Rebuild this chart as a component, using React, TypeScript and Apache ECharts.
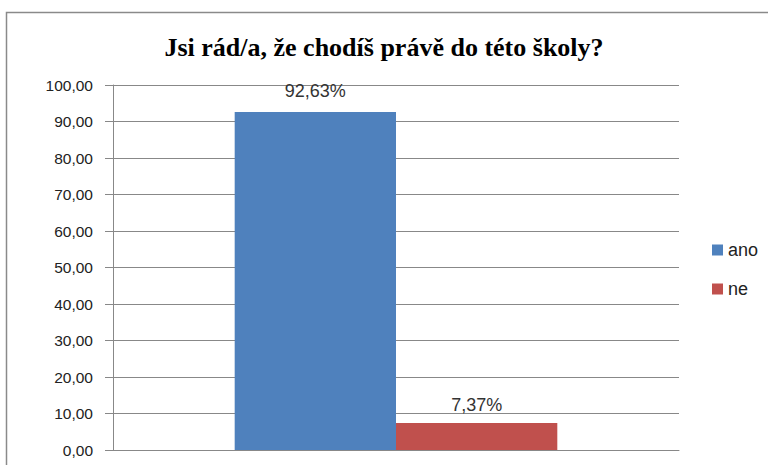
import React, { useEffect, useRef } from "react";
import * as echarts from "echarts";

const titleText = "Jsi rád/a, že chodíš právě do této školy?";
const categories = [""];
const seriesNames = ["ano", "ne"];
const anoValues = [92.63];
const neValues = [7.37];
const colors = ["#4F81BD", "#C0504D"];

const fmt = (v: number) => v.toFixed(2).replace(".", ",");

export default function App() {
  const ref = useRef<HTMLDivElement>(null);
  useEffect(() => {
    document.body.style.margin = "0";
    const chart = echarts.init(ref.current!, undefined, { renderer: "svg" });
    const labelStyle = (distance: number) => ({
      show: true,
      position: "top" as const,
      distance,
      fontFamily: "Liberation Sans, Arial, sans-serif",
      fontSize: 18,
      color: "#333",
      formatter: (p: any) => fmt(p.value) + "%",
    });
    chart.setOption({
      animation: false,
      backgroundColor: "#fff",
      title: {
        text: titleText,
        left: "center",
        top: 29,
        textStyle: {
          fontFamily: "Liberation Serif, Times New Roman, serif",
          fontWeight: "bold",
          fontSize: 26,
          color: "#000",
        },
      },
      graphic: [
        {
          type: "rect",
          shape: { x: 6.5, y: 12.5, width: 800, height: 500 },
          style: { fill: "none", stroke: "#8a8a8a", lineWidth: 1.5 },
          silent: true,
        },
      ],
      legend: {
        orient: "vertical",
        left: 707,
        top: 236,
        itemWidth: 11,
        itemHeight: 11,
        itemGap: 21,
        icon: "rect",
        textStyle: {
          fontFamily: "Liberation Sans, Arial, sans-serif",
          fontSize: 18,
          color: "#222",
        },
        data: seriesNames,
      },
      grid: { left: 113, right: 89, top: 85, bottom: 15, containLabel: false },
      xAxis: {
        type: "category",
        data: categories,
        axisLine: { show: true, lineStyle: { color: "#888", width: 1 } },
        axisTick: { show: false },
        axisLabel: { show: false },
      },
      yAxis: {
        type: "value",
        min: 0,
        max: 100,
        interval: 10,
        axisLine: { show: true, lineStyle: { color: "#888", width: 1 } },
        axisTick: { show: true, length: 8, lineStyle: { color: "#888" } },
        splitLine: { show: true, lineStyle: { color: "#888", width: 1 } },
        axisLabel: {
          margin: 20,
          fontFamily: "Liberation Sans, Arial, sans-serif",
          fontSize: 15.5,
          color: "#222",
          formatter: (v: number) => fmt(v),
        },
      },
      series: [
        {
          name: seriesNames[0],
          type: "bar",
          data: anoValues,
          itemStyle: { color: colors[0] },
          barGap: "0%",
          barCategoryGap: "43%",
          label: labelStyle(12),
        },
        {
          name: seriesNames[1],
          type: "bar",
          data: neValues,
          itemStyle: { color: colors[1] },
          barGap: "0%",
          barCategoryGap: "43%",
          label: labelStyle(9),
        },
      ],
    });
    return () => chart.dispose();
  }, []);
  return <div ref={ref} style={{ width: 768, height: 465 }} />;
}
